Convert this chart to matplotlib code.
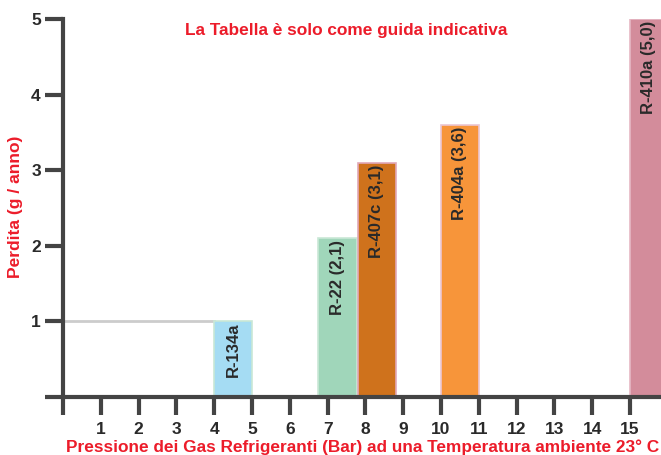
import matplotlib.pyplot as plt

plt.rcParams['font.family'] = ['Liberation Sans', 'DejaVu Sans']

# data
gases = ['R-134a', 'R-22 (2,1)', 'R-407c (3,1)', 'R-404a (3,6)', 'R-410a (5,0)']
pressure_left = [4.0, 6.75, 7.8, 10.0, 15.0]
pressure_right = [5.0, 7.78, 8.8, 11.0, 16.0]
loss = [1.0, 2.1, 3.1, 3.6, 5.0]
colors = ['#A5DCF3', '#A0D6BA', '#CF721C', '#F7953A', '#D38C9B']
edges = ['#C9E8D6', '#C9E8D6', '#E0A8B8', '#EBC6D2', '#E6B8C4']

x_ticks = list(range(0, 16))
x_labels = [''] + [str(i) for i in range(1, 16)]
y_ticks = [0, 1, 2, 3, 4, 5]
y_labels = ['', '1', '2', '3', '4', '5']

red = '#EC1C2A'
dark = '#444444'

fig = plt.figure(figsize=(6.61, 4.55), dpi=100)
ax = fig.add_axes([63 / 661, 1 - 397 / 455, 1 - 63 / 661, (397 - 19) / 455])

# grey guide line at 1
ax.plot([0, pressure_left[0]], [1, 1], color='#CCCCCC', lw=2, zorder=1)

for i in range(len(gases)):
    w = pressure_right[i] - pressure_left[i]
    ax.bar(pressure_left[i], loss[i], width=w, align='edge', color=colors[i],
           edgecolor=edges[i], linewidth=1.2, zorder=2)
    ax.text(pressure_left[i] + min(w, 1.0) / 2, loss[i] - 0.02, gases[i],
            rotation=90, ha='center', va='top', fontsize=12,
            fontweight='bold', color='#2A2A2A', zorder=3)

ax.set_xlim(0, 15.82)
ax.set_ylim(0, 5)
ax.set_xticks(x_ticks)
ax.set_xticklabels(x_labels)
ax.set_yticks(y_ticks)
ax.set_yticklabels(y_labels)

for s in ['top', 'right']:
    ax.spines[s].set_visible(False)
for s in ['left', 'bottom']:
    ax.spines[s].set_color(dark)
    ax.spines[s].set_linewidth(3)
    ax.spines[s].set_zorder(4)

ax.tick_params(axis='x', length=13, width=3, color=dark, pad=5,
               labelsize=12.5, labelcolor='#2A2A2A')
ax.tick_params(axis='y', length=13, width=3, color=dark, pad=3,
               labelsize=12.5, labelcolor='#2A2A2A')
for lab in ax.get_xticklabels() + ax.get_yticklabels():
    lab.set_fontweight('bold')

fig.text(346 / 661, 1 - 30 / 455, 'La Tabella è solo come guida indicativa',
         ha='center', va='center', color=red, fontsize=12.4, fontweight='bold')
fig.text(16 / 661, 1 - 207 / 455, 'Perdita (g / anno)', rotation=90,
         ha='center', va='center', color=red, fontsize=12.5, fontweight='bold')
fig.text(66 / 661, 1 - 447 / 455,
         'Pressione dei Gas Refrigeranti (Bar) ad una Temperatura ambiente 23° C',
         ha='left', va='center', color=red, fontsize=12.4, fontweight='bold')

fig.savefig('out.png', dpi=100)
